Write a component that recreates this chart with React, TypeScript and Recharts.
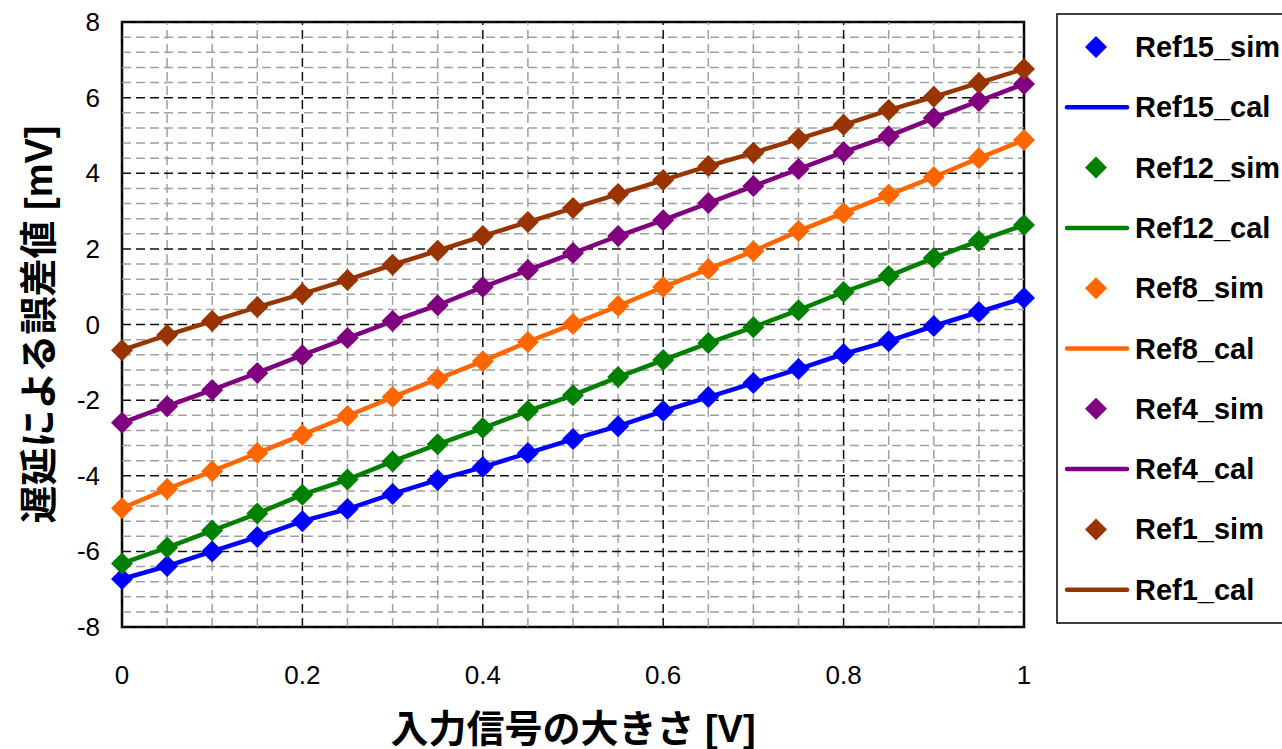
import React from "react";
import {
  LineChart,
  Line,
  XAxis,
  YAxis,
  ReferenceLine,
  ReferenceArea,
} from "recharts";

const X_VALUES = [
  0, 0.05, 0.1, 0.15, 0.2, 0.25, 0.3, 0.35, 0.4, 0.45, 0.5, 0.55, 0.6, 0.65,
  0.7, 0.75, 0.8, 0.85, 0.9, 0.95, 1,
];

const REF15 = [
  -6.73, -6.39, -6.0, -5.62, -5.2, -4.88, -4.48, -4.11, -3.77, -3.4, -3.03,
  -2.69, -2.29, -1.92, -1.55, -1.18, -0.78, -0.44, -0.04, 0.33, 0.7,
];
const REF12 = [
  -6.32, -5.9, -5.45, -5.0, -4.5, -4.1, -3.62, -3.17, -2.74, -2.29, -1.87,
  -1.39, -0.94, -0.49, -0.07, 0.38, 0.86, 1.28, 1.76, 2.21, 2.63,
];
const REF8 = [
  -4.86, -4.35, -3.88, -3.4, -2.92, -2.42, -1.92, -1.44, -0.97, -0.46, 0.01,
  0.49, 0.99, 1.47, 1.94, 2.47, 2.95, 3.43, 3.9, 4.4, 4.88,
];
const REF4 = [
  -2.6, -2.16, -1.73, -1.28, -0.81, -0.36, 0.09, 0.51, 0.99, 1.44, 1.89, 2.34,
  2.76, 3.21, 3.66, 4.11, 4.56, 4.98, 5.46, 5.91, 6.36,
];
const REF1 = [
  -0.68, -0.28, 0.09, 0.46, 0.81, 1.18, 1.58, 1.95, 2.34, 2.71, 3.08, 3.45,
  3.82, 4.19, 4.54, 4.91, 5.28, 5.67, 6.02, 6.39, 6.76,
];

const SERIES = [
  { key: "ref15", name: "Ref15", color: "#0000FF", values: REF15 },
  { key: "ref12", name: "Ref12", color: "#008000", values: REF12 },
  { key: "ref8", name: "Ref8", color: "#FF6600", values: REF8 },
  { key: "ref4", name: "Ref4", color: "#800080", values: REF4 },
  { key: "ref1", name: "Ref1", color: "#993300", values: REF1 },
];

const X_TICKS = [0, 0.2, 0.4, 0.6, 0.8, 1];
const Y_TICKS = [-8, -6, -4, -2, 0, 2, 4, 6, 8];
// minor grid every 0.05 on x, every 0.4 on y
const X_MINOR = X_VALUES.filter((v) => !X_TICKS.includes(v));
const Y_MINOR = [
  -7.6, -7.2, -6.8, -6.4, -5.6, -5.2, -4.8, -4.4, -3.6, -3.2, -2.8, -2.4, -1.6,
  -1.2, -0.8, -0.4, 0.4, 0.8, 1.2, 1.6, 2.4, 2.8, 3.2, 3.6, 4.4, 4.8, 5.2, 5.6,
  6.4, 6.8, 7.2, 7.6,
];

const FONT = "'Liberation Sans', Arial, 'Noto Sans CJK JP', sans-serif";
const CJK_FONT = "'Liberation Sans', 'Noto Sans CJK JP', sans-serif";
const TICK_SIZE = 26;

const data = X_VALUES.map((x, i) => {
  const row: Record<string, number> = { x };
  SERIES.forEach((s) => {
    row[s.key] = s.values[i];
  });
  return row;
});

const diamondPath = (cx: number, cy: number, r: number) =>
  `M${cx},${cy - r}L${cx + r},${cy}L${cx},${cy + r}L${cx - r},${cy}Z`;

function XTick(props: any) {
  const { x, y, payload } = props;
  return (
    <text
      x={x}
      y={y + 46}
      textAnchor="middle"
      dominantBaseline="central"
      fontFamily={FONT}
      fontSize={TICK_SIZE}
      fill="#000"
    >
      {String(payload.value)}
    </text>
  );
}

function YTick(props: any) {
  const { y, payload } = props;
  return (
    <text
      x={100}
      y={y}
      textAnchor="end"
      dominantBaseline="central"
      fontFamily={FONT}
      fontSize={TICK_SIZE}
      fill="#000"
    >
      {String(payload.value)}
    </text>
  );
}

function LegendBox() {
  const rows: { label: string; color: string; sim: boolean }[] = [];
  SERIES.forEach((s) => {
    rows.push({ label: `${s.name}_sim`, color: s.color, sim: true });
    rows.push({ label: `${s.name}_cal`, color: s.color, sim: false });
  });
  return (
    <svg
      width={226}
      height={612}
      style={{ position: "absolute", left: 1056, top: 13, display: "block" }}
    >
      <rect
        x={1}
        y={1}
        width={300}
        height={609}
        fill="#fff"
        stroke="#000"
        strokeWidth={1.5}
      />
      {rows.map((r, i) => {
        const cy = 34 + i * 60.3;
        return (
          <g key={r.label}>
            {r.sim ? (
              <path d={diamondPath(40, cy, 11)} fill={r.color} />
            ) : (
              <line
                x1={11}
                x2={71}
                y1={cy}
                y2={cy}
                stroke={r.color}
                strokeWidth={4.5}
                strokeLinecap="round"
              />
            )}
            <text
              x={79}
              y={cy}
              dominantBaseline="central"
              fontFamily={FONT}
              fontWeight="bold"
              fontSize={29}
              fill="#000"
            >
              {r.label}
            </text>
          </g>
        );
      })}
    </svg>
  );
}

export default function App() {
  return (
    <div
      style={{
        position: "absolute",
        left: 0,
        top: 0,
        width: 1282,
        height: 749,
        overflow: "hidden",
        background: "#fff",
      }}
    >
      <LineChart
        width={1282}
        height={749}
        data={data}
        margin={{ top: 22, right: 258, bottom: 0, left: 0 }}
      >
        <XAxis
          dataKey="x"
          type="number"
          domain={[0, 1]}
          ticks={X_TICKS}
          height={122}
          tickSize={0}
          axisLine={false}
          tick={<XTick />}
          label={(props: any) => {
            const vb = props.viewBox || {};
            return (
              <text
                x={vb.x + vb.width / 2}
                y={742}
                textAnchor="middle"
                fontFamily={CJK_FONT}
                fontWeight="bold"
                fontSize={38}
                fill="#000"
              >
                入力信号の大きさ [V]
              </text>
            );
          }}
        />
        <YAxis
          type="number"
          domain={[-8, 8]}
          ticks={Y_TICKS}
          width={122}
          tickSize={0}
          axisLine={false}
          tick={<YTick />}
          label={(props: any) => {
            const vb = props.viewBox || {};
            const cy = vb.y + vb.height / 2;
            return (
              <text
                x={39}
                y={cy}
                transform={`rotate(-90 39 ${cy})`}
                textAnchor="middle"
                dominantBaseline="central"
                fontFamily={CJK_FONT}
                fontWeight="bold"
                fontSize={38}
                fill="#000"
              >
                遅延による誤差値 [mV]
              </text>
            );
          }}
        />
        {X_MINOR.map((v) => (
          <ReferenceLine
            key={`xm${v}`}
            x={v}
            stroke="#a0a0a0"
            strokeWidth={1.5}
            strokeDasharray="9 5"
          />
        ))}
        {Y_MINOR.map((v) => (
          <ReferenceLine
            key={`ym${v}`}
            y={v}
            stroke="#a0a0a0"
            strokeWidth={1.5}
            strokeDasharray="9 5"
          />
        ))}
        {X_TICKS.map((v) => (
          <ReferenceLine
            key={`xM${v}`}
            x={v}
            stroke="#111"
            strokeWidth={1.5}
            strokeDasharray="9 5"
          />
        ))}
        {Y_TICKS.map((v) => (
          <ReferenceLine
            key={`yM${v}`}
            y={v}
            stroke="#111"
            strokeWidth={1.5}
            strokeDasharray="9 5"
          />
        ))}
        <ReferenceArea
          x1={0}
          x2={1}
          y1={-8}
          y2={8}
          fill="none"
          stroke="#000"
          strokeWidth={2.5}
        />
        {SERIES.flatMap((s) => [
          <Line
            key={`${s.key}_sim`}
            dataKey={s.key}
            name={`${s.name}_sim`}
            stroke="none"
            strokeWidth={0}
            isAnimationActive={false}
            dot={(p: any) => (
              <path
                key={`${s.key}-d-${p.index}`}
                d={diamondPath(p.cx, p.cy, 11)}
                fill={s.color}
              />
            )}
            activeDot={false}
          />,
          <Line
            key={`${s.key}_cal`}
            dataKey={s.key}
            name={`${s.name}_cal`}
            stroke={s.color}
            strokeWidth={4.5}
            dot={false}
            activeDot={false}
            isAnimationActive={false}
          />,
        ])}
      </LineChart>
      <LegendBox />
    </div>
  );
}
